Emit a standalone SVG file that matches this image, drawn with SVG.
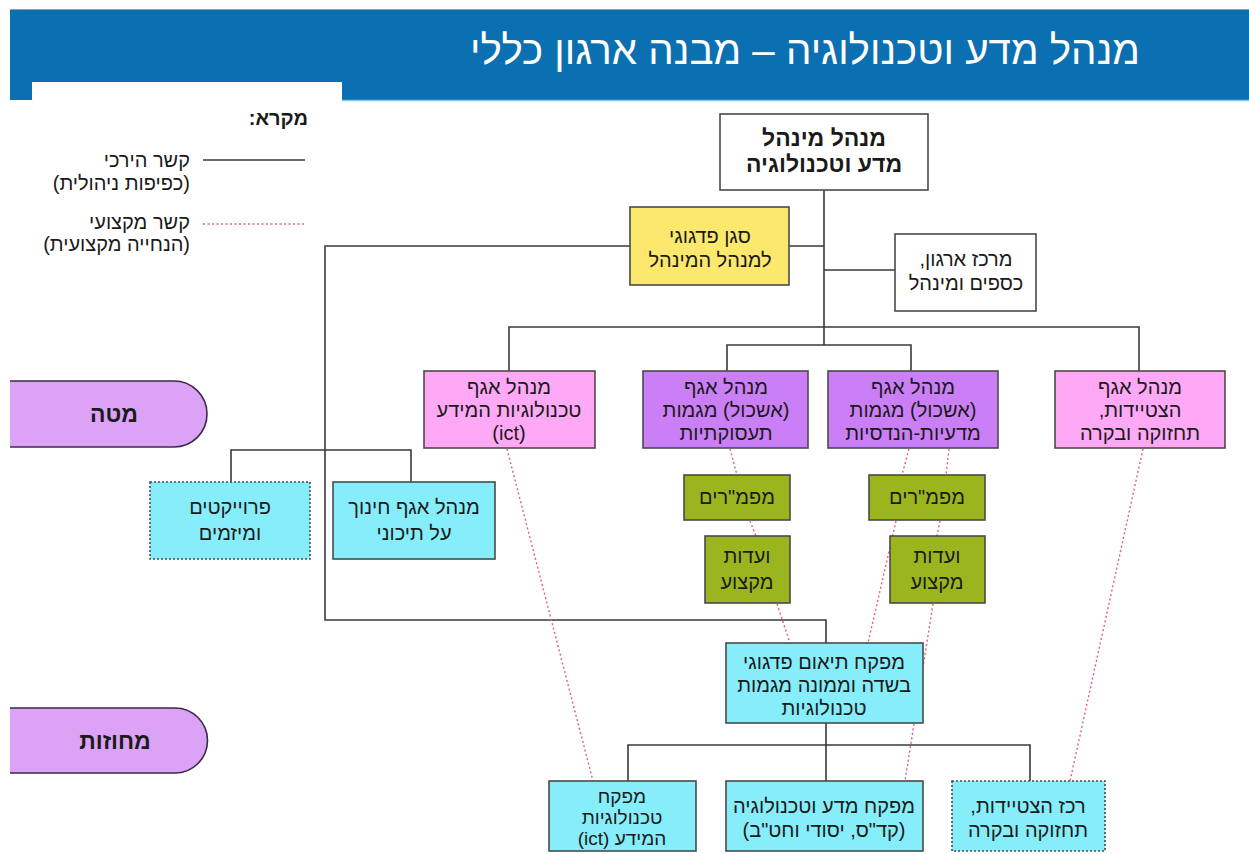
<svg xmlns="http://www.w3.org/2000/svg" width="1249" height="854" viewBox="0 0 1249 854">
<style>
text{font-family:"Liberation Sans","DejaVu Sans",sans-serif;fill:#1a1a1a;font-size:20px;direction:rtl;text-anchor:middle}
.b{stroke:#4a4a4a;stroke-width:1.6}
.dot{stroke-dasharray:2 2}
.h{fill:none;stroke:#3a3a3a;stroke-width:1.6}
.p{fill:none;stroke:#e0607a;stroke-width:1.4;stroke-dasharray:2 2.5}
.white{fill:#ffffff}.yel{fill:#fbe86c}.pink{fill:#ffa8f6}.pur{fill:#cb7ff6}.cyan{fill:#86eefa}.grn{fill:#9ab51e}.loz{fill:#dba2f6;stroke:#3a2a4a;stroke-width:1.6}
.bold{font-weight:bold}
</style>
<rect x="0" y="0" width="1249" height="854" fill="#ffffff"/>
<g id="header">
<line x1="10" y1="9.5" x2="1249" y2="9.5" stroke="#8aa0b0" stroke-width="1"/>
<rect x="10" y="10" width="1239" height="90" fill="#0b70b2"/>
<rect x="32" y="82" width="310" height="22" fill="#ffffff"/>
<line x1="342" y1="100.5" x2="1249" y2="100.5" stroke="#8cc4e8" stroke-width="1.5"/>
<text x="805" y="64" textLength="670" lengthAdjust="spacingAndGlyphs" style="fill:#ffffff;font-size:40px;text-anchor:middle">מנהל מדע וטכנולוגיה – מבנה ארגון כללי</text>
</g>
<g id="legend">
<text x="308" y="125" class="bold" style="text-anchor:start">מקרא:</text>
<text x="190" y="167" style="text-anchor:start">קשר הירכי</text>
<text x="190" y="190" style="text-anchor:start">(כפיפות ניהולית)</text>
<line x1="203" y1="160" x2="305" y2="160" class="h"/>
<text x="190" y="229" style="text-anchor:start">קשר מקצועי</text>
<text x="190" y="251" style="text-anchor:start">(הנחייה מקצועית)</text>
<line x1="203" y1="224" x2="305" y2="224" class="p"/>
</g>
<g id="connectors">
<path class="h" d="M824,190 V345 M789,246 H824 M630,246 H325 V620 H826 V643 M824,270 H895 M509,371 V327 H1139 V371 M727,371 V345 H911 V371 M231,482 V450 H411 V482 M826,723 V745 M628,781 V745 H1030 V781 M826,745 V781"/>
<path class="p" d="M507,449 L593,781 M730,449 L737,475 M750,521 L756,536 M777,604 L790,643 M909,449 L902,475 M949,449 L946,475 M896,521 L868,643 M940,521 L937,536 M933,604 L905,781 M1143,449 L1070,781"/>
</g>
<g id="n-top"><rect class="b white" x="720" y="114" width="208" height="76"/><text class="bold" x="824" y="146" style="font-size:23px">מנהל מינהל</text><text class="bold" x="824" y="172" style="font-size:23px">מדע וטכנולוגיה</text></g>
<g id="n-deputy"><rect class="b yel" x="630" y="207" width="159" height="78"/><text x="710" y="243">סגן פדגוגי</text><text x="710" y="267">למנהל המינהל</text></g>
<g id="n-center"><rect class="b white" x="895" y="234" width="141" height="77"/><text x="966" y="266">מרכז ארגון,</text><text x="966" y="290">כספים ומינהל</text></g>
<g id="n-ict"><rect class="b pink" x="424" y="371" width="171" height="77"/><text x="509" y="394">מנהל אגף</text><text x="509" y="417">טכנולוגיות המידע</text><text x="509" y="440">(ict)</text></g>
<g id="n-occ"><rect class="b pur" x="643" y="371" width="165" height="77"/><text x="726" y="394">מנהל אגף</text><text x="726" y="417">(אשכול) מגמות</text><text x="726" y="440">תעסוקתיות</text></g>
<g id="n-sci"><rect class="b pur" x="828" y="371" width="170" height="77"/><text x="913" y="394">מנהל אגף</text><text x="913" y="417">(אשכול) מגמות</text><text x="913" y="440">מדעיות-הנדסיות</text></g>
<g id="n-equip"><rect class="b pink" x="1055" y="371" width="170" height="77"/><text x="1140" y="394">מנהל אגף</text><text x="1140" y="417">הצטיידות,</text><text x="1140" y="440">תחזוקה ובקרה</text></g>
<g id="n-mate"><path class="loz" d="M10,381 H174 A33,33 0 0 1 174,447 H10"/><text class="bold" x="114" y="422" style="font-size:23px">מטה</text></g>
<g id="n-districts"><path class="loz" d="M10,708 H175 A32.5,32.5 0 0 1 175,773 H10"/><text class="bold" x="115" y="749" style="font-size:23px">מחוזות</text></g>
<g id="n-projects"><rect class="b cyan dot" x="150" y="482" width="160" height="77"/><text x="230" y="514">פרוייקטים</text><text x="230" y="540">ומיזמים</text></g>
<g id="n-post"><rect class="b cyan" x="333" y="482" width="162" height="77"/><text x="414" y="514">מנהל אגף חינוך</text><text x="414" y="540">על תיכוני</text></g>
<g id="n-mafmar1"><rect class="b grn" x="684" y="475" width="106" height="45"/><text x="737" y="504">מפמ"רים</text></g>
<g id="n-vaada1"><rect class="b grn" x="705" y="536" width="85" height="67"/><text x="747" y="563">ועדות</text><text x="747" y="589">מקצוע</text></g>
<g id="n-mafmar2"><rect class="b grn" x="869" y="475" width="116" height="45"/><text x="927" y="504">מפמ"רים</text></g>
<g id="n-vaada2"><rect class="b grn" x="890" y="536" width="95" height="67"/><text x="937" y="563">ועדות</text><text x="937" y="589">מקצוע</text></g>
<g id="n-coord"><rect class="b cyan" x="726" y="643" width="197" height="80"/><text x="824" y="669">מפקח תיאום פדגוגי</text><text x="824" y="692">בשדה וממונה מגמות</text><text x="824" y="715">טכנולוגיות</text></g>
<g id="n-ictsup"><rect class="b cyan" x="549" y="781" width="147" height="70"/><text x="622" y="803" style="font-size:19px">מפקח</text><text x="622" y="824" style="font-size:19px">טכנולוגיות</text><text x="622" y="845" style="font-size:19px">המידע (ict)</text></g>
<g id="n-scisup"><rect class="b cyan" x="726" y="781" width="197" height="70"/><text x="824" y="813">מפקח מדע וטכנולוגיה</text><text x="824" y="837">(קד"ס, יסודי וחט"ב)</text></g>
<g id="n-equipco"><rect class="b cyan dot" x="952" y="781" width="153" height="70"/><text x="1028" y="813">רכז הצטיידות,</text><text x="1028" y="837">תחזוקה ובקרה</text></g>
</svg>
